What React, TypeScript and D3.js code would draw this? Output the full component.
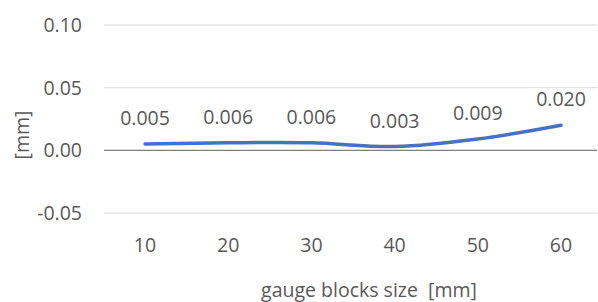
import React from "react";
import * as d3 from "d3";

const categories = ["10", "20", "30", "40", "50", "60"];
const values = [0.005, 0.006, 0.006, 0.003, 0.009, 0.02];
const valueLabels = ["0.005", "0.006", "0.006", "0.003", "0.009", "0.020"];
const yTicks = [-0.05, 0, 0.05, 0.1];
const yTickLabels = ["-0.05", "0.00", "0.05", "0.10"];

const W = 598;
const H = 302;
const FONT = "'Open Sans', 'Noto Sans', sans-serif";
const TEXT = "#595959";
const FS = 19.5;

export default function App() {
  const x = d3.scaleBand<string>().domain(categories).range([103.4, 602.6]).padding(0);
  const y = d3.scaleLinear().domain([-0.05, 0.1]).range([213, 25]);
  const cx = (c: string) => (x(c) as number) + x.bandwidth() / 2;
  const pts: [number, number][] = categories.map((c, i) => [cx(c), y(values[i])]);
  const line = d3.line().curve(d3.curveCatmullRom.alpha(0.5))(pts) || "";

  return (
    <svg width={W} height={H} style={{ position: "absolute", left: 0, top: 0, background: "#fff" }}>
      <rect x={0} y={0} width={W} height={H} fill="#fff" />
      {yTicks.map((t, i) => (
        <g key={t}>
          <line
            x1={104}
            x2={597}
            y1={y(t)}
            y2={y(t)}
            stroke={t === 0 ? "#7f7f7f" : "#d9d9d9"}
            strokeWidth={t === 0 ? 1.3 : 1}
          />
          <text
            x={82}
            y={y(t)}
            dy="0.36em"
            textAnchor="end"
            fontFamily={FONT}
            fontSize={FS}
            fill={TEXT}
          >
            {yTickLabels[i]}
          </text>
        </g>
      ))}
      {categories.map((c) => (
        <text
          key={c}
          x={cx(c)}
          y={245}
          dy="0.36em"
          textAnchor="middle"
          fontFamily={FONT}
          fontSize={FS}
          fill={TEXT}
        >
          {c}
        </text>
      ))}
      <path d={line} fill="none" stroke="#4472C4" strokeWidth={3.5} strokeLinecap="round" />
      {pts.map(([px, py], i) => (
        <text
          key={i}
          x={px}
          y={py - 26}
          dy="0.36em"
          textAnchor="middle"
          fontFamily={FONT}
          fontSize={FS}
          fill={TEXT}
        >
          {valueLabels[i]}
        </text>
      ))}
      <text
        transform={`translate(22,135) rotate(-90)`}
        textAnchor="middle"
        dy="0.36em"
        fontFamily={FONT}
        fontSize={FS}
        fill={TEXT}
      >
        [mm]
      </text>
      <text
        x={369}
        y={290}
        dy="0.36em"
        textAnchor="middle"
        fontFamily={FONT}
        fontSize={FS}
        fill={TEXT}
        style={{ whiteSpace: "pre" }}
      >
        gauge blocks size  [mm]
      </text>
    </svg>
  );
}
